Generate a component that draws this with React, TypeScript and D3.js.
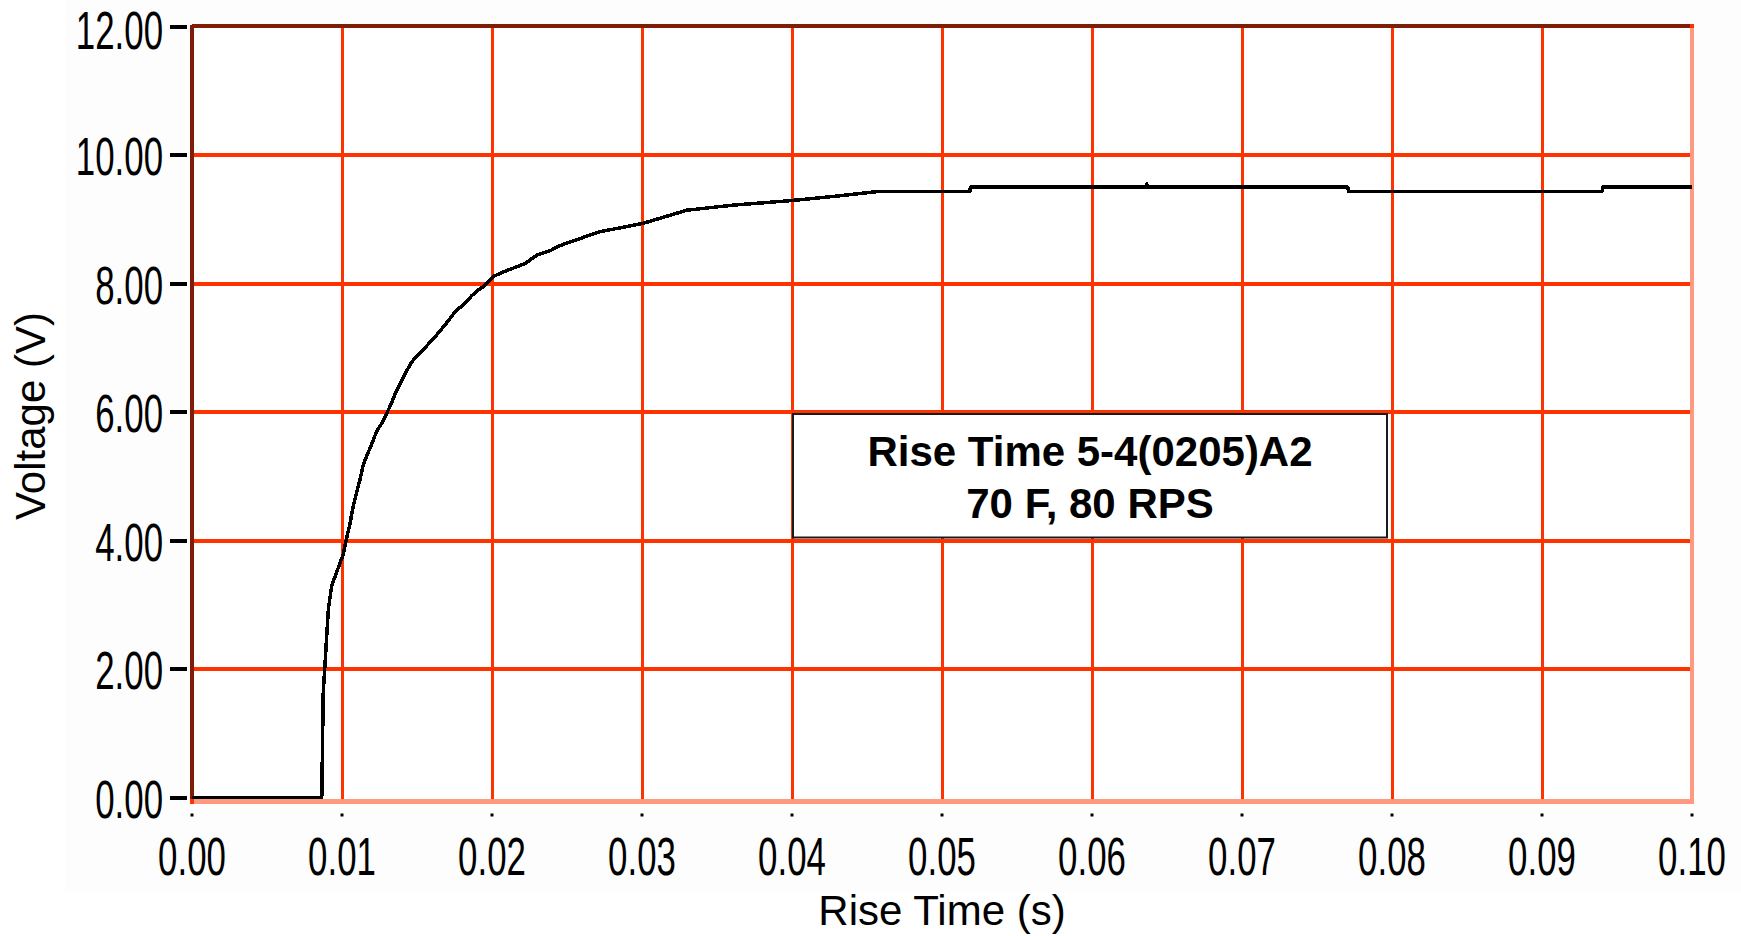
import * as d3 from "d3";

// readings taken off the trace (seconds, volts)
const timeS = [
  0, 0.00865, 0.00875, 0.00909, 0.00931, 0.0096, 0.00987, 0.01009, 0.01031, 0.01053,
  0.01075, 0.01098, 0.0112, 0.01142, 0.01169, 0.01198, 0.01231, 0.01275, 0.01302, 0.01331,
  0.01353, 0.01387, 0.01431, 0.01465, 0.0152, 0.01565, 0.01609, 0.01653, 0.01709, 0.01753,
  0.01809, 0.01865, 0.01909, 0.01953, 0.02009, 0.02075, 0.02142, 0.0222, 0.02298, 0.02387,
  0.02453, 0.02709, 0.03013, 0.03298, 0.03609, 0.03993, 0.04298, 0.04565, 0.05185, 0.0519,
  0.0636, 0.06365, 0.06372, 0.07705, 0.0771, 0.094, 0.09405, 0.1,
];
const voltageV = [
  0, 0, 1.63, 2.93, 3.29, 3.48, 3.65, 3.79, 4.04, 4.26,
  4.54, 4.75, 4.95, 5.18, 5.34, 5.5, 5.7, 5.86, 6.0, 6.14,
  6.28, 6.44, 6.64, 6.78, 6.92, 7.03, 7.14, 7.26, 7.42, 7.56,
  7.67, 7.81, 7.9, 7.97, 8.11, 8.18, 8.24, 8.31, 8.44, 8.51,
  8.59, 8.8, 8.94, 9.14, 9.22, 9.29, 9.36, 9.43, 9.43, 9.5,
  9.5, 9.55, 9.5, 9.5, 9.43, 9.43, 9.5, 9.5,
];

const xTicks = [0, 0.01, 0.02, 0.03, 0.04, 0.05, 0.06, 0.07, 0.08, 0.09, 0.1];
const yTicks = [0, 2, 4, 6, 8, 10, 12];
const noteLines = ["Rise Time 5-4(0205)A2", "70 F, 80 RPS"];
const noteSpan = [0.04, 0.08, 4, 6]; // x0, x1, y0, y1 in data units

const GRID = "#ff3300";
const DARK = "#801d09";
const PINK = "#ff9980";

export default function App() {
  const width = 1741;
  const height = 936;
  const left = 192, right = 1692, top = 26.5, bottom = 797.5;

  const x = d3.scaleLinear().domain([0, 0.1]).range([left, right]);
  const y = d3.scaleLinear().domain([0, 12]).range([bottom, top]);
  const fmt = d3.format(".2f");

  const line = d3.line<number>()
    .x((d, i) => x(timeS[i]))
    .y(d => y(d));

  const bx0 = x(noteSpan[0]) + 1;
  const bx1 = x(noteSpan[1]) - 5;
  const by0 = y(noteSpan[3]) + 2;
  const by1 = y(noteSpan[2]) - 3;

  // the tick font is a narrow pixel face, so squeeze a regular sans sideways
  const tickFont = "'Liberation Sans', Arial, sans-serif";
  const squeeze = 0.645;
  const arial = "'Liberation Sans', Arial, sans-serif";

  return (
    <svg width={width} height={height} viewBox={`0 0 ${width} ${height}`}
         style={{position: "absolute", left: 0, top: 0, background: "white"}}>
      <rect x={65} y={0} width={width - 65} height={893} fill="#fdfdfd"/>
      <rect x={left} y={top} width={right - left} height={bottom - top + 3} fill="white"/>

      <g shapeRendering="crispEdges">
        {/* vertical grid */}
        {xTicks.slice(1, -1).map(t =>
          <line key={"vx" + t} x1={x(t)} x2={x(t)} y1={top} y2={bottom + 3} stroke={GRID} strokeWidth={3}/>
        )}
        {/* horizontal grid */}
        {yTicks.slice(1, -1).map(v =>
          <line key={"hy" + v} x1={left} x2={right} y1={y(v)} y2={y(v)} stroke={GRID} strokeWidth={4}/>
        )}

        {/* frame */}
        <line x1={left} x2={right} y1={top - 0.5} y2={top - 0.5} stroke={DARK} strokeWidth={3.5}/>
        <line x1={left} x2={left} y1={top - 2} y2={bottom + 1} stroke={DARK} strokeWidth={4}/>
        <line x1={left} x2={right + 2} y1={bottom + 3.5} y2={bottom + 3.5} stroke={PINK} strokeWidth={5}/>
        <line x1={right} x2={right} y1={top} y2={bottom + 6} stroke={PINK} strokeWidth={3.5}/>
        <rect x={left - 2} y={bottom + 1} width={4} height={5} fill={GRID}/>
        <rect x={right - 2} y={top - 2.5} width={4} height={3.5} fill={GRID}/>
      </g>

      {/* note box */}
      <rect x={bx0} y={by0} width={bx1 - bx0} height={by1 - by0} fill="white" stroke="#1a1a1a" strokeWidth={2}/>
      {noteLines.map((s, i) =>
        <text key={s} x={(bx0 + bx1) / 2} y={by0 + 52 + i * 52} textAnchor="middle"
              fontFamily={arial} fontWeight="bold" fontSize={42} fill="#000">{s}</text>
      )}

      {/* trace */}
      <path d={line(voltageV) || ""} fill="none" stroke="#000" strokeWidth={3.5}
            strokeLinejoin="round" shapeRendering="crispEdges"/>

      {/* y axis */}
      {yTicks.map(v => (
        <g key={"yt" + v}>
          <line x1={170} x2={187} y1={y(v)} y2={y(v)} stroke="#000" strokeWidth={4} shapeRendering="crispEdges"/>
          <text transform={`translate(163,${Math.max(y(v) + 20, 49)}) scale(${squeeze},1)`}
                textAnchor="end" fontFamily={tickFont} fontSize={54} fill="#000">{fmt(v)}</text>
        </g>
      ))}

      {/* x axis */}
      {xTicks.map(t => (
        <g key={"xt" + t}>
          <rect x={x(t) - 1.5} y={813.5} width={3} height={3} fill="#000"/>
          <text transform={`translate(${x(t)},875) scale(${squeeze},1)`}
                textAnchor="middle" fontFamily={tickFont} fontSize={54} fill="#000">{fmt(t)}</text>
        </g>
      ))}

      <text x={942} y={925} textAnchor="middle" fontFamily={arial} fontSize={42} fill="#000">Rise Time (s)</text>
      <text transform="translate(45,416) rotate(-90)" textAnchor="middle"
            fontFamily={arial} fontSize={42} fill="#000">Voltage (V)</text>
    </svg>
  );
}
